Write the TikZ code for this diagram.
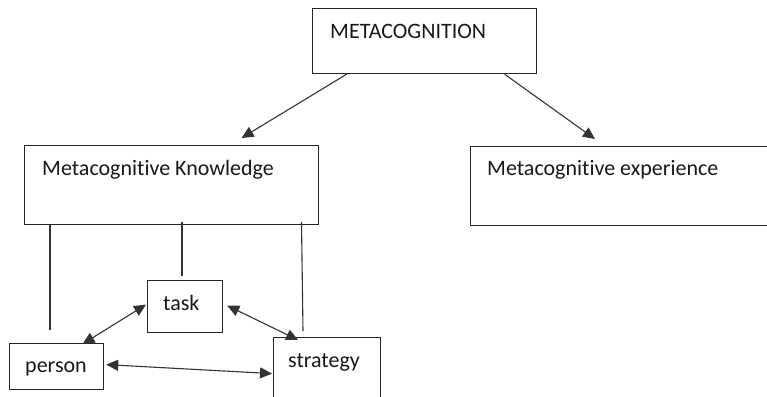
\documentclass[tikz,border=0pt]{standalone}
\usepackage{fontspec}
\setmainfont{Carlito}[RawFeature={-liga;-clig;-calt;-dlig}]
\usetikzlibrary{arrows.meta}
\begin{document}
\begin{tikzpicture}[x=1pt,y=-1pt,
  box/.style={draw=black!85, line width=1.2pt, fill=white, inner sep=0pt, anchor=north west},
  lbl/.style={inner sep=0pt, anchor=base west, font=\fontsize{22}{24}\selectfont, text=black!90},
  link/.style={draw=black!80, line width=1.1pt},
  onearrow/.style={link, -{Triangle[length=12pt,width=11pt]}},
  twoarrow/.style={link, {Triangle[length=12pt,width=11pt]}-{Triangle[length=12pt,width=11pt]}}]
  \clip (0,0) rectangle (767,396);
  \fill[white] (0,0) rectangle (767,396);

  % boxes
  \node[box, minimum width=224pt, minimum height=65pt] (meta) at (312,8) {};
  \node[box, minimum width=294pt, minimum height=79pt] (mk) at (24,145) {};
  \node[box, minimum width=330pt, minimum height=79pt] (me) at (470,146) {};
  \node[box, minimum width=75pt, minimum height=52pt] (task) at (147,280) {};
  \node[box, minimum width=94pt, minimum height=46pt] (person) at (9,343) {};
  \node[box, minimum width=107pt, minimum height=70pt] (strategy) at (273,337) {};

  % labels
  \node[lbl] (metaT) at (330,38.5) {METACOGNITION};
  \node[lbl] (mkT) at (42,175) {Metacognitive Knowledge};
  \node[lbl] (meT) at (487,175) {Metacognitive experience};
  \node[lbl] (taskT) at (163,310) {task};
  \node[lbl] (personT) at (25,372) {person};
  \node[lbl] (strategyT) at (288,367) {strategy};

  % top-level arrows
  \draw[onearrow] ([xshift=-78pt]meta.south) -- ([xshift=70pt,yshift=7pt]mk.north);
  \draw[onearrow] ([xshift=80pt]meta.south) -- ([xshift=125pt,yshift=7pt]me.north west);

  % lines hanging from the knowledge box
  \coordinate (pEnd) at (50,330);
  \coordinate (tEnd) at (182,276);
  \coordinate (sEnd) at (303,331);
  \draw[link] (mk.south -| pEnd) -- (pEnd);
  \draw[link] ([yshift=3pt]mk.south -| tEnd) -- (tEnd);
  \draw[link] ([yshift=3pt]mk.south -| 301.5,0) -- (sEnd);

  % relations between person, task and strategy
  \draw[twoarrow] ([xshift=-1pt,yshift=2pt]task.west) -- ([xshift=26pt,yshift=-1pt]person.north);
  \draw[twoarrow] ([xshift=4pt,yshift=1pt]task.east) -- ([xshift=-29pt,yshift=-3pt]strategy.north);
  \draw[twoarrow] ([xshift=2pt,yshift=2pt]person.east) -- ([xshift=-1pt,yshift=-1pt]strategy.west);
\end{tikzpicture}
\end{document}
